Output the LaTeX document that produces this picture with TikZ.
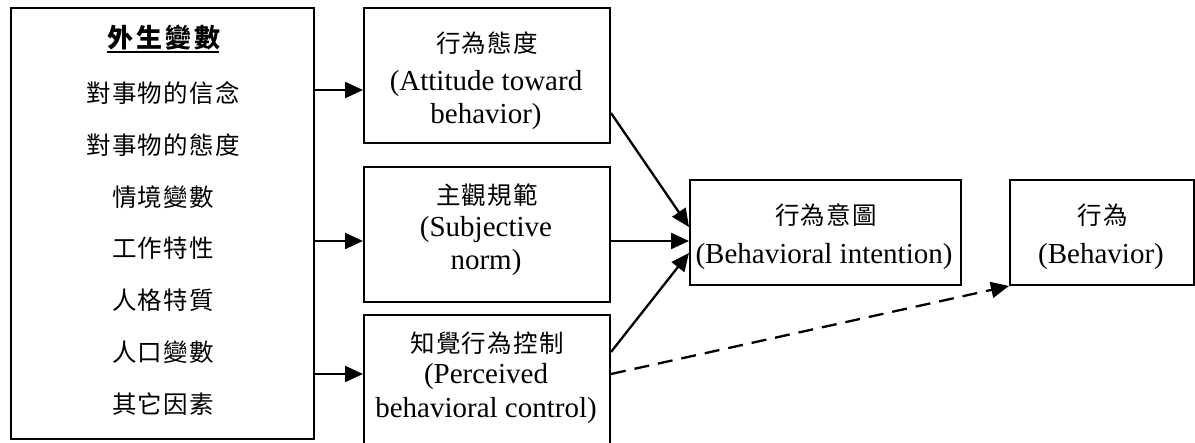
\documentclass[tikz,border=0pt]{standalone}
\usepackage{fontspec}
\setmainfont{Liberation Serif}
\newfontfamily\cjk[LetterSpace=5]{Noto Sans CJK TC}
\newfontfamily\cjkt[LetterSpace=12]{Noto Sans CJK TC}
\usetikzlibrary{arrows.meta,calc}
\begin{document}
\begin{tikzpicture}[x=1pt,y=-1pt,
  box/.style={draw, line width=2pt, inner sep=0pt, anchor=north west},
  en/.style={font=\fontsize{29}{33}\selectfont, inner sep=0pt},
  zh/.style={font=\fontsize{24.5}{28}\selectfont\cjk, inner sep=0pt},
  zhtitle/.style={font=\fontsize{26}{30}\selectfont\cjkt\bfseries, inner sep=0pt},
  arr/.style={line width=2.3pt, -{Triangle[length=18pt,width=16pt]}},
  darr/.style={arr, dash pattern=on 15pt off 9pt}]
\useasboundingbox (0,0) rectangle (1195,443);
% boxes
\node[box, minimum width=303pt, minimum height=431pt] (L) at (10,7) {};
\node[box, minimum width=246pt, minimum height=135pt] (A) at (363,7) {};
\node[box, minimum width=246pt, minimum height=135pt] (S) at (363,166) {};
\node[box, minimum width=246pt, minimum height=145pt] (P) at (363,314) {};
\node[box, minimum width=271pt, minimum height=105pt] (I) at (689,179) {};
\node[box, minimum width=184pt, minimum height=105pt] (B) at (1009,179) {};
% left texts
\node[zhtitle] (t0) at (164,38) {外生變數};
\draw[line width=2.5pt] ($(t0.south west)+(0,1)$) -- ($(t0.south east)+(-2,1)$);
\node[zh] (t1) at (163,93) {對事物的信念};
\node[zh] (t2) at (163,145) {對事物的態度};
\node[zh] (t3) at (163,197) {情境變數};
\node[zh] (t4) at (163,248) {工作特性};
\node[zh] (t5) at (163,300) {人格特質};
\node[zh] (t6) at (163,352) {人口變數};
\node[zh] (t7) at (163,404) {其它因素};
% middle texts
\node[zh] (a1) at (487,43) {行為態度};
\node[en] (a2) at (486,84) {(Attitude toward};
\node[en] (a3) at (486,117) {behavior)};
\node[zh] (s1) at (487,195) {主觀規範};
\node[en] (s2) at (486,230) {(Subjective};
\node[en] (s3) at (486,263) {norm)};
\node[zh] (p1) at (487,343) {知覺行為控制};
\node[en] (p2) at (486,377) {(Perceived};
\node[en] (p3) at (486,411) {behavioral control)};
% right texts
\node[zh] (i1) at (826,215) {行為意圖};
\node[en] (i2) at (824,257) {(Behavioral intention)};
\node[zh] (b1) at (1103,215) {行為};
\node[en] (b2) at (1101,257) {(Behavior)};
% connectors
\draw[arr] (L.east |- 0,90) -- (A.west |- 0,90);
\draw[arr] (L.east |- 0,241) -- (S.west |- 0,241);
\draw[arr] (L.east |- 0,374) -- (P.west |- 0,374);
\draw[arr] (A.east |- 0,113) -- (I.west |- 0,227);
\draw[arr] (S.east |- 0,241) -- (I.west |- 0,241);
\draw[arr] (P.east |- 0,352) -- (I.west |- 0,253);
\draw[darr] (P.east |- 0,374) -- (B.south west);
\end{tikzpicture}
\end{document}
